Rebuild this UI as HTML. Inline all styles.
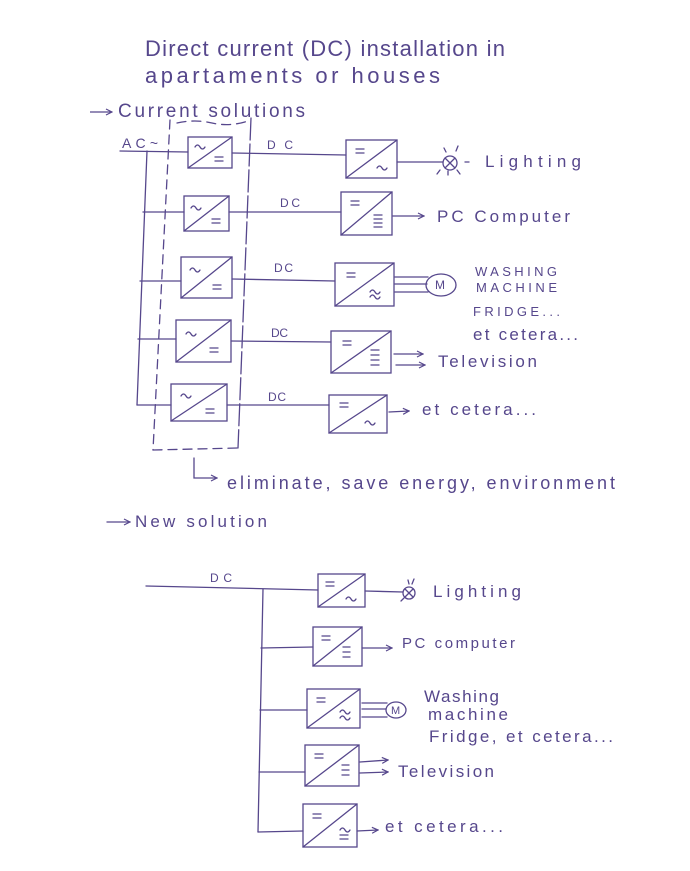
<!DOCTYPE html>
<html><head><meta charset="utf-8"><style>
html,body{margin:0;padding:0;background:#fff;}
svg{display:block;}
text{font-family:"Liberation Sans",sans-serif;fill:#56478c;}
</style></head><body>
<svg width="690" height="871" viewBox="0 0 690 871" xmlns="http://www.w3.org/2000/svg">
<defs>
<marker id="ah" markerWidth="8" markerHeight="8" refX="7" refY="4" orient="auto" markerUnits="userSpaceOnUse">
<path d="M1,1 L7,4 L1,7" fill="none" stroke="#56478c" stroke-width="1.2"/>
</marker>
</defs>
<rect width="690" height="871" fill="#fff"/>

<!-- Titles -->
<text x="145" y="56" font-size="22" textLength="360" lengthAdjust="spacing">Direct current (DC) installation in</text>
<text x="145" y="83" font-size="22" textLength="295" lengthAdjust="spacing">apartaments or houses</text>
<g stroke="#56478c" stroke-width="1.3" fill="none">
<line x1="90" y1="112" x2="112" y2="112" marker-end="url(#ah)"/>
</g>
<text x="118" y="117" font-size="19" textLength="187" lengthAdjust="spacing">Current solutions</text>

<g stroke="#56478c" stroke-width="1.3" fill="none" stroke-linecap="round">
<!-- AC feed and bus -->
<line x1="120" y1="151" x2="188" y2="152"/>
<line x1="147" y1="151" x2="137" y2="405"/>
<line x1="143" y1="212" x2="184" y2="212"/>
<line x1="140" y1="281" x2="181" y2="281"/>
<line x1="138" y1="339" x2="176" y2="339"/>
<line x1="137" y1="405" x2="171" y2="405"/>

<!-- dashed enclosure -->
<line x1="170" y1="120" x2="153" y2="450" stroke-dasharray="9 6"/>
<line x1="251" y1="118" x2="238" y2="448" stroke-dasharray="22 4"/>
<line x1="153" y1="450" x2="238" y2="448" stroke-dasharray="9 6"/>
<path d="M177,123 Q195,119 212,123 Q230,127 248,121" stroke-dasharray="9 6"/>

<!-- AC/DC boxes -->
<rect x="188" y="137" width="44" height="31"/><line x1="188" y1="168" x2="232" y2="137"/>
<path d="M195,147 q2.5,-4 5,0 t5,0"/><path d="M215,157 h8 M215,161 h8"/>
<rect x="184" y="196" width="45" height="35"/><line x1="184" y1="231" x2="229" y2="196"/>
<path d="M191,208 q2.5,-4 5,0 t5,0"/><path d="M212,219 h8 M212,223 h8"/>
<rect x="181" y="257" width="51" height="41"/><line x1="181" y1="298" x2="232" y2="257"/>
<path d="M190,270 q2.5,-4 5,0 t5,0"/><path d="M213,285 h8 M213,289 h8"/>
<rect x="176" y="320" width="55" height="42"/><line x1="176" y1="362" x2="231" y2="320"/>
<path d="M186,334 q2.5,-4 5,0 t5,0"/><path d="M210,348 h8 M210,352 h8"/>
<rect x="171" y="384" width="56" height="37"/><line x1="171" y1="421" x2="227" y2="384"/>
<path d="M181,396 q2.5,-4 5,0 t5,0"/><path d="M206,409 h8 M206,413 h8"/>

<!-- DC lines -->
<line x1="232" y1="153" x2="346" y2="155"/>
<line x1="229" y1="212" x2="341" y2="212"/>
<line x1="232" y1="279" x2="335" y2="281"/>
<line x1="231" y1="341" x2="331" y2="342"/>
<line x1="227" y1="405" x2="329" y2="405"/>

<!-- DC/x boxes -->
<rect x="346" y="140" width="51" height="38"/><line x1="346" y1="178" x2="397" y2="140"/>
<path d="M356,149 h8 M356,153 h8"/><path d="M377,168 q2.5,-4 5,0 t5,0"/>
<rect x="341" y="192" width="51" height="43"/><line x1="341" y1="235" x2="392" y2="192"/>
<path d="M351,201 h8 M351,205 h8"/><path d="M374,215 h8 M374,219 h8 M374,223 h8 M374,227 h8"/>
<rect x="335" y="263" width="59" height="43"/><line x1="335" y1="306" x2="394" y2="263"/>
<path d="M347,273 h8 M347,277 h8"/><path d="M370,292 q2.5,-4 5,0 t5,0 M370,297 q2.5,-4 5,0 t5,0"/>
<rect x="331" y="331" width="60" height="42"/><line x1="331" y1="373" x2="391" y2="331"/>
<path d="M343,341 h8 M343,345 h8"/><path d="M371,350 h8 M371,355 h8 M371,360 h8 M371,365 h8"/>
<rect x="329" y="395" width="58" height="38"/><line x1="329" y1="433" x2="387" y2="395"/>
<path d="M340,403 h8 M340,407 h8"/><path d="M365,423 q2.5,-4 5,0 t5,0"/>

<!-- outputs top -->
<line x1="397" y1="162" x2="443" y2="162"/>
<circle cx="450" cy="163" r="7"/>
<path d="M445,158 L455,168 M455,158 L445,168"/>
<path d="M444,148 l2,4 M458,146 l-2,5 M465,162 h4 M437,174 l3,-4 M448,175 l0,-4 M460,174 l-3,-4"/>
<line x1="393" y1="216" x2="424" y2="216" marker-end="url(#ah)"/>
<line x1="395" y1="277" x2="428" y2="277"/>
<line x1="395" y1="284" x2="427" y2="284"/>
<line x1="395" y1="292" x2="428" y2="292"/>
<ellipse cx="441" cy="285" rx="15" ry="11"/>
<line x1="394" y1="354" x2="423" y2="354" marker-end="url(#ah)"/>
<line x1="396" y1="365" x2="425" y2="365" marker-end="url(#ah)"/>
<line x1="389" y1="412" x2="409" y2="411" marker-end="url(#ah)"/>

<!-- eliminate arrow -->
<path d="M194,458 L194,478 L217,478" marker-end="url(#ah)"/>

<!-- New solution arrow -->
<line x1="107" y1="522" x2="130" y2="522" marker-end="url(#ah)"/>

<!-- bottom section -->
<line x1="146" y1="586" x2="318" y2="590"/>
<line x1="263" y1="589" x2="258" y2="832"/>
<line x1="261" y1="648" x2="313" y2="647"/>
<line x1="260" y1="710" x2="307" y2="710"/>
<line x1="259" y1="772" x2="305" y2="772"/>
<line x1="258" y1="832" x2="303" y2="831"/>

<rect x="318" y="574" width="47" height="33"/><line x1="318" y1="607" x2="365" y2="574"/>
<path d="M326,582 h8 M326,586 h8"/><path d="M346,599 q2.5,-4 5,0 t5,0"/>
<rect x="313" y="627" width="49" height="39"/><line x1="313" y1="666" x2="362" y2="627"/>
<path d="M322,636 h8 M322,640 h8"/><path d="M343,647 h7 M343,652 h7 M343,657 h7"/>
<rect x="307" y="689" width="53" height="39"/><line x1="307" y1="728" x2="360" y2="689"/>
<path d="M317,698 h8 M317,702 h8"/><path d="M340,712 q2.5,-4 5,0 t5,0 M340,718 q2.5,-4 5,0 t5,0"/>
<rect x="305" y="745" width="54" height="41"/><line x1="305" y1="786" x2="359" y2="745"/>
<path d="M315,754 h8 M315,758 h8"/><path d="M342,765 h7 M342,770 h7 M342,775 h7"/>
<rect x="303" y="804" width="54" height="43"/><line x1="303" y1="847" x2="357" y2="804"/>
<path d="M313,814 h8 M313,818 h8"/><path d="M340,830 q2.5,-4 5,0 t5,0"/><path d="M340,835 h8 M340,839 h8"/>

<line x1="365" y1="591" x2="403" y2="592"/>
<circle cx="409" cy="593" r="6"/>
<path d="M405,589 L413,597 M413,589 L405,597"/>
<path d="M408,580 l1,4 M414,579 l-2,5 M401,601 l3,-3"/>
<line x1="362" y1="648" x2="392" y2="648" marker-end="url(#ah)"/>
<line x1="362" y1="703" x2="387" y2="703"/>
<line x1="362" y1="709" x2="386" y2="709"/>
<line x1="362" y1="717" x2="387" y2="717"/>
<ellipse cx="396" cy="710" rx="10" ry="8"/>
<line x1="360" y1="762" x2="388" y2="760" marker-end="url(#ah)"/>
<line x1="360" y1="773" x2="388" y2="772" marker-end="url(#ah)"/>
<line x1="357" y1="831" x2="378" y2="830" marker-end="url(#ah)"/>
</g>

<!-- labels -->
<g font-size="12">
<text x="122" y="148" font-size="14" textLength="36" lengthAdjust="spacing">AC~</text>
<text x="267" y="149" textLength="26" lengthAdjust="spacing">DC</text>
<text x="280" y="207" textLength="20" lengthAdjust="spacing">DC</text>
<text x="274" y="272" textLength="19" lengthAdjust="spacing">DC</text>
<text x="271" y="337" textLength="17" lengthAdjust="spacing">DC</text>
<text x="268" y="401" textLength="18" lengthAdjust="spacing">DC</text>
<text x="210" y="582" textLength="22" lengthAdjust="spacing">DC</text>
<text x="435" y="289" font-size="12">M</text>
<text x="391" y="714" font-size="11">M</text>
</g>
<g font-size="17">
<text x="485" y="167" textLength="96" lengthAdjust="spacing">Lighting</text>
<text x="437" y="222" textLength="133" lengthAdjust="spacing">PC Computer</text>
<text x="475" y="276" font-size="13" textLength="82" lengthAdjust="spacing">WASHING</text>
<text x="476" y="292" font-size="13" textLength="81" lengthAdjust="spacing">MACHINE</text>
<text x="473" y="316" font-size="13" textLength="87" lengthAdjust="spacing">FRIDGE...</text>
<text x="473" y="340" textLength="105" lengthAdjust="spacing">et cetera...</text>
<text x="438" y="367" textLength="99" lengthAdjust="spacing">Television</text>
<text x="422" y="415" textLength="114" lengthAdjust="spacing">et cetera...</text>
<text x="227" y="489" font-size="18" textLength="388" lengthAdjust="spacing">eliminate, save energy, environment</text>
<text x="135" y="527" textLength="132" lengthAdjust="spacing">New solution</text>
<text x="433" y="597" textLength="88" lengthAdjust="spacing">Lighting</text>
<text x="402" y="648" font-size="15" textLength="113" lengthAdjust="spacing">PC computer</text>
<text x="424" y="702" textLength="75" lengthAdjust="spacing">Washing</text>
<text x="428" y="720" textLength="80" lengthAdjust="spacing">machine</text>
<text x="429" y="742" textLength="184" lengthAdjust="spacing">Fridge, et cetera...</text>
<text x="398" y="777" textLength="96" lengthAdjust="spacing">Television</text>
<text x="385" y="832" textLength="118" lengthAdjust="spacing">et cetera...</text>
</g>
</svg>
</body></html>
